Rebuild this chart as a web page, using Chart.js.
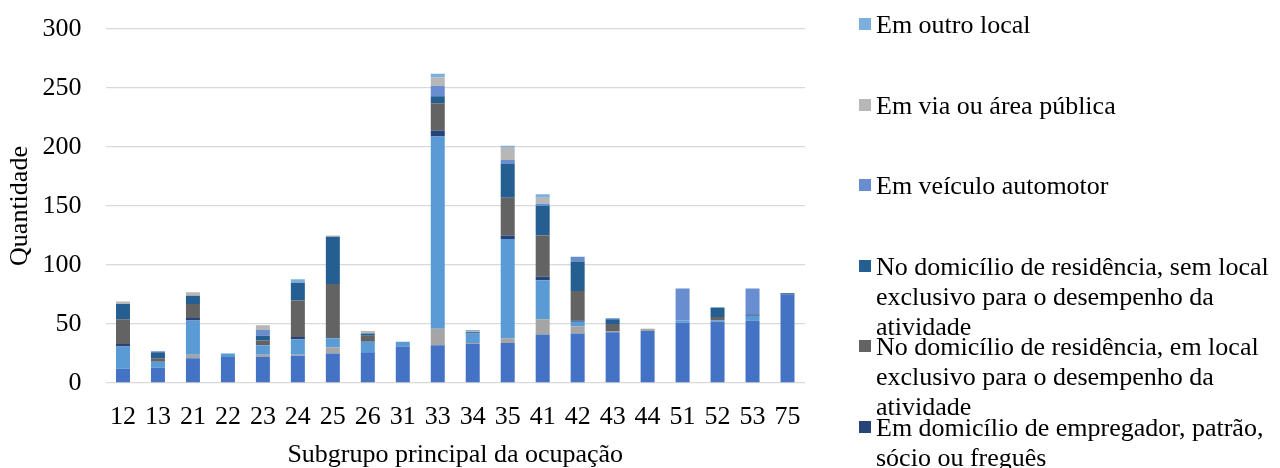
<!DOCTYPE html>
<html>
<head>
<meta charset="utf-8">
<script src="https://cdn.jsdelivr.net/npm/chart.js@4/dist/chart.umd.min.js"></script>
<style>
	body { margin: 0; background: #fff; }
	#wrap { position: relative; width: 1280px; height: 468px; overflow: hidden; }
	#chartBox { position: absolute; left: 0; top: 0; width: 830px; height: 468px; }
	#legend { position: absolute; left: 0; top: 0; width: 1280px; height: 468px; overflow: hidden; pointer-events: none; }
	.item { position: absolute; left: 876px; width: 406px; font: 26px "Liberation Serif", serif; line-height: 30px; color: #000; }
	.swatch { position: absolute; left: -17px; top: 8px; width: 12px; height: 12px; }
</style>
</head>
<body>
<div id="wrap">
	<div id="chartBox"><canvas id="c"></canvas></div>
	<div id="legend"></div>
</div>
<script>
// Categories (subgrupo principal da ocupação)
const categories = ['12', '13', '21', '22', '23', '24', '25', '26', '31', '33', '34', '35', '41', '42', '43', '44', '51', '52', '53', '75'];

// Series values, bottom of the stack first
const estabelecimento = [12, 13, 21, 22, 22, 23, 25, 26, 31, 32, 33, 34, 41, 42, 43, 44, 51, 52, 53, 75];
const fazenda         = [0, 0, 3, 0, 2, 1, 5, 0, 0, 14, 1, 4, 13, 6, 1, 2, 0, 0, 0, 0];
const localDesignado  = [19, 5, 29, 3, 8, 13, 8, 9, 4, 163, 8, 84, 33, 4, 0, 0, 2, 1, 4, 0];
const domEmpregador   = [2, 0, 2, 0, 0, 2, 0, 0, 0, 5, 1, 3, 3, 1, 0, 0, 0, 0, 1, 1];
const resComLocal     = [21, 3, 12, 0, 4, 31, 46, 5, 0, 23, 0, 32, 35, 25, 6, 0, 0, 3, 0, 0];
const resSemLocal     = [13, 5, 7, 0, 4, 15, 40, 2, 0, 6, 0, 29, 25, 25, 4, 0, 0, 8, 0, 0];
const veiculo         = [0, 1, 0, 0, 5, 0, 0, 0, 0, 9, 0, 3, 2, 4, 0, 0, 27, 0, 22, 0];
const viaPublica      = [2, 0, 3, 0, 4, 0, 1, 2, 0, 7, 1, 11, 5, 0, 0, 0, 0, 0, 0, 0];
const outroLocal      = [0, 0, 0, 0, 0, 3, 0, 0, 0, 3, 1, 1, 3, 0, 1, 0, 0, 0, 0, 0];

const seriesNames = [
	'Em loja, escritório, oficina, fábrica ou outro estabelecimento',
	'Em fazenda, sítio, granja ou chácara',
	'Em local designado pelo empregador, patrão ou freguês',
	'Em domicílio de empregador, patrão, sócio ou freguês',
	'No domicílio de residência, em local exclusivo para o desempenho da atividade',
	'No domicílio de residência, sem local exclusivo para o desempenho da atividade',
	'Em veículo automotor',
	'Em via ou área pública',
	'Em outro local'
];
const seriesData = [estabelecimento, fazenda, localDesignado, domEmpregador, resComLocal, resSemLocal, veiculo, viaPublica, outroLocal];
const seriesColors = ['#4472C4', '#A5A5A5', '#5B9BD5', '#264478', '#636363', '#255E91', '#698ED0', '#B7B7B7', '#7CAFDD'];

const yTicks = [0, 50, 100, 150, 200, 250, 300];

const FONT = '"Liberation Serif", "Times New Roman", serif';
Chart.defaults.font.family = FONT;
Chart.defaults.color = '#000';

const datasets = seriesNames.map((name, i) => ({
	label: name,
	data: seriesData[i],
	backgroundColor: seriesColors[i],
	borderWidth: 0,
	barPercentage: 0.4,
	categoryPercentage: 1
}));

new Chart(document.getElementById('c'), {
	type: 'bar',
	data: { labels: categories, datasets },
	options: {
		animation: false,
		responsive: true,
		maintainAspectRatio: false,
		layout: { padding: { top: 29, right: 25, bottom: 0, left: 0 } },
		plugins: { legend: { display: false }, tooltip: { enabled: false } },
		scales: {
			x: {
				stacked: true,
				grid: { display: false, drawTicks: false },
				border: { display: false },
				ticks: { font: { size: 26 }, padding: 19, maxRotation: 0, autoSkip: false },
				title: { display: true, text: 'Subgrupo principal da ocupação', font: { size: 26, lineHeight: 1 }, padding: { top: 0, bottom: 0 } },
				afterFit: (scale) => { scale.height = 85; }
			},
			y: {
				stacked: true,
				min: 0,
				max: 300,
				afterBuildTicks: (scale) => { scale.ticks = yTicks.map(v => ({ value: v })); },
				grid: { color: '#D9D9D9', lineWidth: 1.3, drawTicks: false },
				border: { display: false },
				ticks: { font: { size: 26 }, padding: 24 },
				title: { display: true, text: 'Quantidade', font: { size: 26 }, padding: { top: 5, bottom: 0 } },
				afterFit: (scale) => {
					scale.width = 105.5;
					scale.paddingTop = 0;
					scale.paddingBottom = 0;
				}
			}
		}
	}
});

// Legend on the right, last series on top (cut by the picture's bottom edge)
const legend = document.getElementById('legend');
datasets.slice().reverse().forEach((ds, i) => {
	const item = document.createElement('div');
	item.className = 'item';
	item.style.top = (10 + 80.5 * i) + 'px';
	const sw = document.createElement('span');
	sw.className = 'swatch';
	sw.style.background = ds.backgroundColor;
	item.appendChild(sw);
	item.appendChild(document.createTextNode(ds.label));
	legend.appendChild(item);
});
</script>
</body>
</html>
